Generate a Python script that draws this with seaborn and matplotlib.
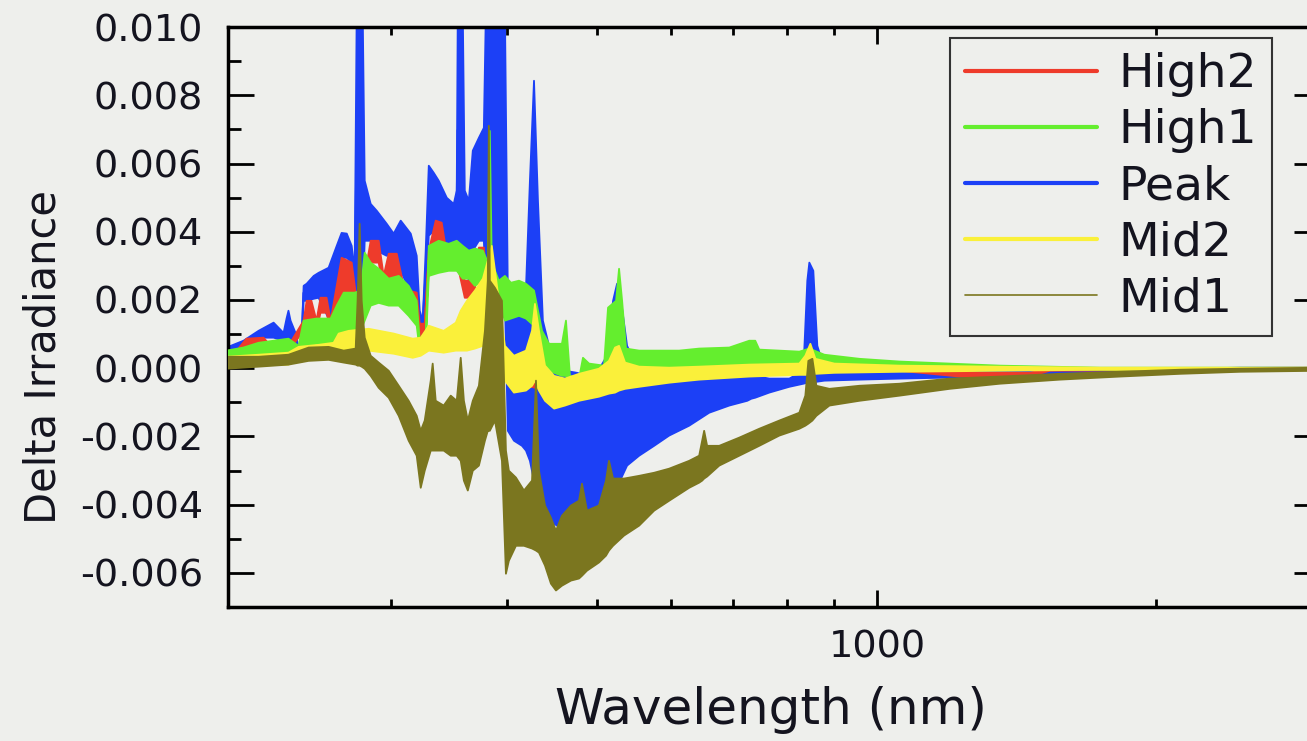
import numpy as np
import pandas as pd
import matplotlib
matplotlib.use("Agg")
import matplotlib.pyplot as plt
from matplotlib.lines import Line2D
from matplotlib import ticker
import seaborn as sns

# Irradiance difference per activity phase. Each spectrum is densely sampled,
# so it is stored as the upper / lower envelope of the signal at each wavelength.

PEAK_NM = [199.0, 207.6, 215.5, 223.7, 229.3, 231.0, 232.1, 233.3, 236.2, 238.0,
           239.8, 241.0, 242.8, 247.1, 250.1, 256.4, 261.6, 264.8, 268.2, 271.5,
           273.5, 274.9, 279.0, 280.4, 284.6, 288.9, 296.1, 301.3, 306.6, 314.3,
           319.0, 321.4, 323.8, 326.2, 328.7, 332.8, 336.9, 343.7, 349.7, 352.3,
           353.2, 357.6, 359.4, 363.0, 366.6, 372.2, 376.8, 378.7, 397.0, 399.9,
           406.0, 414.2, 418.3, 422.4, 426.7, 430.9, 436.2, 442.9, 451.8, 460.8,
           474.7, 486.6, 498.9, 511.4, 519.1, 524.3, 529.5, 537.5, 553.8, 574.8,
           596.6, 627.0, 658.9, 692.5, 724.2, 731.4, 738.6, 764.7, 803.7, 832.2,
           840.4, 844.6, 853.0, 861.5, 876.7, 956.4, 1056, 1196, 1354, 1572,
           1824, 2117, 2458, 3000]
PEAK_HI = [0.00062, 0.00082, 0.00111, 0.00135, 0.00105, 0.00147, 0.00170, 0.00141, 0.00105, 0.00059,
           0.00082, 0.00243, 0.00249, 0.00272, 0.00281, 0.00296, 0.00360, 0.00398, 0.00396, 0.00360,
           0.00287, 0.0105, 0.0105, 0.00551, 0.00483, 0.00463, 0.00425, 0.00396, 0.00434, 0.00396,
           0.00331, 0.00170, 0.00141, 0.00346, 0.00595, 0.00574, 0.00551, 0.00501, 0.00483, 0.00522,
           0.0105, 0.0105, 0.00522, 0.00492, 0.00639, 0.00677, 0.00706, 0.0105, 0.0105, 0.00220,
           0.00199, 0.00214, 0.00237, 0.00551, 0.00844, 0.00492, 0.00141, 0.00067, 0.00023, -0.00006,
           -0.00012, -0.00021, -0.00012, 0.00038, 0.00199, 0.00249, 0.00199, 0.00067, -0.00006, -0.00012,
           -0.00018, -0.00021, -0.00023, -0.00026, -0.00026, 0.00032, -0.00021, -0.00029, -0.00029, -0.00006,
           0.00258, 0.00311, 0.00287, 0.00067, 0.0, -0.00012, -0.00012, -0.00009, -0.00006, -0.00003,
           0.0, 0.0, 0.00003, 0.00003]
PEAK_LO = [0.00041, 0.00064, 0.00091, 0.00091, 0.00082, 0.00076, 0.00070, 0.00070, 0.00059, 0.00047,
           0.00053, 0.00199, 0.00199, 0.00205, 0.00208, 0.00147, 0.00199, 0.00325, 0.00325, 0.00311,
           0.00199, 0.00199, 0.00199, 0.00375, 0.00375, 0.00346, 0.00331, 0.00337, 0.00287, 0.00223,
           0.00199, 0.00132, 0.00126, 0.00199, 0.00390, 0.00404, 0.00428, 0.00355, 0.00352, 0.00346,
           0.00346, 0.00346, 0.00316, 0.00258, 0.00346, 0.00375, 0.00375, 0.00229, 0.00199, -0.00182,
           -0.00211, -0.00226, -0.00240, -0.00270, -0.00328, -0.00387, -0.00416, -0.00445, -0.00460, -0.00469,
           -0.00489, -0.00460, -0.00401, -0.00363, -0.00343, -0.00334, -0.00322, -0.00284, -0.00255, -0.00226,
           -0.00196, -0.00167, -0.00129, -0.00108, -0.00094, -0.00088, -0.00085, -0.00070, -0.00053, -0.00044,
           -0.00041, -0.00041, -0.00041, -0.00038, -0.00035, -0.00032, -0.00029, -0.00026, -0.00023, -0.00018,
           -0.00015, -0.00009, -0.00006, -0.00003]

HIGH2_NM = [199.0, 205.0, 209.1, 218.2, 222.0, 232.1, 241.0, 242.8, 245.7, 248.8,
            251.3, 255.1, 257.7, 264.8, 271.5, 274.9, 280.4, 284.6, 290.3, 293.9,
            297.6, 303.6, 308.9, 312.7, 319.0, 321.4, 325.4, 328.7, 334.4, 339.4,
            342.8, 349.7, 354.1, 359.4, 367.5, 372.2, 376.8, 381.5, 400.9, 460.8,
            553.8, 727.7, 1056, 1226, 1459, 1533, 3000]
HIGH2_HI = [0.00047, 0.00059, 0.00088, 0.00091, 0.00067, 0.00067, 0.00141, 0.00199, 0.00199, 0.00141,
            0.00208, 0.00208, 0.00141, 0.00325, 0.00311, 0.00199, 0.00272, 0.00375, 0.00375, 0.00272,
            0.00337, 0.00337, 0.00243, 0.00229, 0.00223, 0.00132, 0.00132, 0.00346, 0.00434, 0.00428,
            0.00355, 0.00355, 0.00316, 0.00258, 0.00258, 0.00355, 0.00355, 0.00199, 0.00023, -0.00050,
            -0.00010, 0.0, 0.0, -0.00012, -0.00012, 0.0, 0.00003]
HIGH2_LO = [0.00035, 0.00041, 0.00067, 0.00064, 0.00053, 0.00053, 0.00111, 0.00147, 0.00147, 0.00111,
            0.00164, 0.00164, 0.00111, 0.00220, 0.00220, 0.00141, 0.00199, 0.00311, 0.00311, 0.00229,
            0.00267, 0.00267, 0.00199, 0.00179, 0.00179, 0.00091, 0.00091, 0.00287, 0.00375, 0.00369,
            0.00331, 0.00331, 0.00287, 0.00208, 0.00208, 0.00325, 0.00325, 0.00111, -0.00035, -0.00080,
            -0.00030, -0.00012, -0.00006, -0.00023, -0.00023, -0.00006, -0.00003]

HIGH1_NM = [199.0, 207.6, 215.5, 223.7, 232.1, 238.0, 241.0, 248.8, 257.7, 261.6,
            266.2, 273.5, 277.6, 280.4, 284.6, 290.3, 297.6, 305.1, 312.7, 319.0,
            321.4, 326.2, 328.7, 336.9, 345.4, 352.3, 357.6, 363.0, 368.5, 375.9,
            380.5, 382.4, 384.3, 391.1, 397.0, 403.0, 411.1, 418.3, 426.7, 435.3,
            442.9, 457.3, 461.9, 466.5, 477.1, 481.8, 489.1, 507.6, 512.7, 523.0,
            526.9, 530.9, 536.1, 553.8, 611.6, 642.7, 692.5, 727.7, 738.6, 746.0,
            823.9, 844.6, 876.7, 956.4, 1056, 1196, 1354, 1736, 3000]
HIGH1_HI = [0.00053, 0.00062, 0.00076, 0.00082, 0.00088, 0.00067, 0.00141, 0.00147, 0.00147, 0.00185,
            0.00223, 0.00223, 0.00229, 0.00340, 0.00311, 0.00293, 0.00264, 0.00272, 0.00243, 0.00199,
            0.00082, 0.00082, 0.00360, 0.00375, 0.00366, 0.00375, 0.00360, 0.00346, 0.00352, 0.00346,
            0.00311, 0.00697, 0.00311, 0.00258, 0.00272, 0.00252, 0.00258, 0.00249, 0.00229, 0.00111,
            0.00073, 0.00073, 0.00141, -0.00021, -0.00029, 0.00032, 0.00015, 0.00009, 0.00179, 0.00199,
            0.00293, 0.00199, 0.00059, 0.00053, 0.00053, 0.00059, 0.00062, 0.00082, 0.00082, 0.00056,
            0.00050, 0.00059, 0.00041, 0.00029, 0.00021, 0.00015, 0.00009, 0.00003, 0.00003]
HIGH1_LO = [0.00023, 0.00029, 0.00038, 0.00041, 0.00044, 0.00041, 0.00067, 0.00073, 0.00073, 0.00082,
            0.00111, 0.00111, 0.00111, 0.00141, 0.00185, 0.00193, 0.00185, 0.00185, 0.00155, 0.00126,
            0.00053, 0.00053, 0.00272, 0.00281, 0.00287, 0.00287, 0.00264, 0.00264, 0.00243, 0.00258,
            0.00258, 0.00258, 0.00258, 0.00199, 0.00141, 0.00147, 0.00155, 0.00147, 0.00126, 0.00023,
            -0.00006, -0.00021, -0.00021, -0.00050, -0.00050, -0.00035, -0.00035, -0.00029, -0.00006, -0.00006,
            0.00009, 0.00009, 0.0, -0.00006, 0.0, 0.00006, 0.00006, 0.00006, 0.00006, 0.00006,
            0.00006, 0.00006, 0.00003, 0.0, -0.00003, -0.00003, -0.00003, -0.00003, -0.00003]

MID2_NM = [199.0, 215.5, 232.1, 238.0, 250.1, 259.6, 262.9, 269.5, 283.2, 301.3,
           315.9, 322.2, 328.7, 341.1, 351.5, 355.8, 361.3, 368.5, 375.9, 384.3,
           391.1, 397.0, 406.0, 418.3, 424.6, 427.7, 432.0, 438.5, 448.5, 460.8,
           477.1, 501.3, 513.9, 521.7, 526.9, 534.8, 553.8, 596.6, 642.7, 727.7,
           823.9, 836.3, 846.8, 857.4, 898.7, 1056, 1354, 1736, 3000]
MID2_HI = [0.00035, 0.00041, 0.00047, 0.00064, 0.00070, 0.00076, 0.00103, 0.00111, 0.00117, 0.00103,
           0.00088, 0.00091, 0.00126, 0.00111, 0.00135, 0.00170, 0.00199, 0.00229, 0.00264, 0.00360,
           0.00199, 0.00067, 0.00038, 0.00053, 0.00111, 0.00190, 0.00111, 0.00009, -0.00021, -0.00029,
           -0.00015, 0.0, 0.00023, 0.00062, 0.00067, 0.00018, 0.00006, 0.00003, 0.00006, 0.00012,
           0.00015, 0.00038, 0.00073, 0.00029, 0.00015, 0.00009, 0.00006, 0.00003, 0.00003]
MID2_LO = [0.00006, 0.00009, 0.00012, 0.00029, 0.00035, 0.00038, 0.00047, 0.00053, 0.00053, 0.00044,
           0.00032, 0.00038, 0.00053, 0.00047, 0.00053, 0.00053, 0.00053, 0.00059, 0.00067, 0.00082,
           0.00018, -0.00035, -0.00070, -0.00064, -0.00050, -0.00035, -0.00064, -0.00094, -0.00117, -0.00108,
           -0.00094, -0.00082, -0.00073, -0.00070, -0.00064, -0.00059, -0.00053, -0.00041, -0.00032, -0.00023,
           -0.00018, -0.00018, -0.00018, -0.00015, -0.00012, -0.00009, -0.00006, -0.00003, -0.00003]

MID1_NM = [199.0, 215.5, 232.1, 244.0, 256.4, 266.2, 274.2, 275.5, 276.9, 278.3,
           280.4, 284.6, 290.3, 297.6, 305.1, 312.7, 319.0, 322.2, 325.4, 330.3,
           331.9, 334.4, 341.1, 347.1, 352.3, 355.8, 358.6, 362.1, 366.6, 372.2,
           377.8, 380.5, 381.5, 382.4, 387.3, 394.1, 398.0, 400.9, 408.0, 416.2,
           424.6, 428.8, 432.0, 438.5, 445.0, 450.6, 457.3, 467.7, 477.1, 480.6,
           486.6, 501.3, 510.1, 513.9, 519.1, 533.5, 553.8, 574.8, 596.6, 627.0,
           642.7, 647.5, 650.7, 655.5, 675.5, 709.9, 746.0, 784.0, 823.9, 836.3,
           842.6, 851.0, 859.5, 887.7, 956.4, 1056, 1196, 1354, 1572, 1824,
           2117, 2458, 3000]
MID1_HI = [0.00035, 0.00035, 0.00041, 0.00062, 0.00064, 0.00053, 0.00059, 0.00199, 0.00425, 0.00199,
           0.00091, 0.00038, 0.00018, -0.00006, -0.00050, -0.00094, -0.00138, -0.00182, -0.00152, -0.00035,
           0.00015, -0.00094, -0.00108, -0.00079, -0.00094, 0.00032, -0.00094, -0.00152, -0.00094, -0.00050,
           0.00111, 0.00258, 0.00712, 0.00258, 0.00237, 0.00199, -0.00240, -0.00299, -0.00319, -0.00357,
           -0.00328, -0.00035, -0.00299, -0.00401, -0.00437, -0.00475, -0.00431, -0.00401, -0.00387, -0.00337,
           -0.00416, -0.00401, -0.00328, -0.00270, -0.00322, -0.00322, -0.00314, -0.00305, -0.00293, -0.00270,
           -0.00255, -0.00211, -0.00182, -0.00226, -0.00226, -0.00202, -0.00176, -0.00152, -0.00129, -0.00079,
           0.00023, 0.00029, -0.00050, -0.00059, -0.00050, -0.00044, -0.00029, -0.00023, -0.00015, -0.00009,
           -0.00003, 0.0, 0.00003]
MID1_LO = [0.0, 0.00006, 0.00012, 0.00023, 0.00026, 0.00018, 0.00012, 0.00009, 0.00009, 0.00006,
           0.0, -0.00021, -0.00056, -0.00085, -0.00138, -0.00211, -0.00255, -0.00349, -0.00299, -0.00240,
           -0.00240, -0.00240, -0.00240, -0.00255, -0.00255, -0.00270, -0.00328, -0.00357, -0.00299, -0.00284,
           -0.00211, -0.00182, -0.00182, -0.00182, -0.00152, -0.00270, -0.00601, -0.00563, -0.00519, -0.00519,
           -0.00527, -0.00533, -0.00539, -0.00577, -0.00630, -0.00650, -0.00636, -0.00621, -0.00615, -0.00607,
           -0.00592, -0.00568, -0.00548, -0.00533, -0.00519, -0.00489, -0.00460, -0.00416, -0.00387, -0.00349,
           -0.00334, -0.00328, -0.00322, -0.00316, -0.00284, -0.00255, -0.00226, -0.00196, -0.00176, -0.00167,
           -0.00161, -0.00152, -0.00138, -0.00108, -0.00094, -0.00079, -0.00059, -0.00044, -0.00032, -0.00023,
           -0.00015, -0.00009, -0.00006]

LEGEND_ORDER = ["High2", "High1", "Peak", "Mid2", "Mid1"]
DRAW_ORDER = ["Peak", "High2", "High1", "Mid2", "Mid1"]
COLORS = {"High2": "#ee3b2b", "High1": "#64ee2e", "Peak": "#1c40f6",
          "Mid2": "#faf03a", "Mid1": "#7b761f"}
ENVELOPES = {
    "Peak": (PEAK_NM, PEAK_HI, PEAK_LO),
    "High2": (HIGH2_NM, HIGH2_HI, HIGH2_LO),
    "High1": (HIGH1_NM, HIGH1_HI, HIGH1_LO),
    "Mid2": (MID2_NM, MID2_HI, MID2_LO),
    "Mid1": (MID1_NM, MID1_HI, MID1_LO),
}


def envelope_frame(name, nm, hi, lo):
    nm = np.asarray(nm, dtype=float)
    return pd.DataFrame({
        "series": name,
        "wavelength": np.concatenate([nm, nm]),
        "delta": np.concatenate([np.asarray(hi, float), np.asarray(lo, float)]),
    })


frame = pd.concat([envelope_frame(n, *ENVELOPES[n]) for n in DRAW_ORDER], ignore_index=True)

BG = "#eeefec"
INK = "#14141f"
sns.set_style("ticks")
plt.rcParams["font.family"] = ["DejaVu Sans"]

fig = plt.figure(figsize=(13.07, 7.41), dpi=100, facecolor=BG)
ax = fig.add_axes([0.1744, 0.1808, 0.8355, 0.7827], facecolor=BG)
ax.set_xscale("log")

# each phase: min-max band of the two envelopes, stacked in drawing order
for z, name in enumerate(DRAW_ORDER, start=2):
    sub = frame[frame["series"] == name]
    sns.lineplot(data=sub, x="wavelength", y="delta", ax=ax, color=COLORS[name],
                 estimator="mean", errorbar=("pi", 100), linewidth=1.0, legend=False,
                 err_kws={"alpha": 1.0, "linewidth": 1.3, "zorder": z},
                 zorder=z + 0.5)

ax.set_xlim(200, 3000)
ax.set_ylim(-0.007, 0.010)

ax.xaxis.set_major_locator(ticker.LogLocator(base=10, subs=(1.0,)))
ax.xaxis.set_minor_locator(ticker.LogLocator(base=10, subs=np.arange(2, 10)))
ax.xaxis.set_major_formatter(ticker.FuncFormatter(lambda v, p: f"{v:.0f}"))
ax.xaxis.set_minor_formatter(ticker.NullFormatter())
ax.yaxis.set_major_locator(ticker.MultipleLocator(0.002))
ax.yaxis.set_minor_locator(ticker.MultipleLocator(0.001))
ax.yaxis.set_major_formatter(ticker.FuncFormatter(
    lambda v, p: "0.000" if abs(v) < 1e-9 else f"{v:.3f}"))

ax.tick_params(axis="both", which="both", direction="in", top=True, right=True,
               color="black", labelcolor=INK)
ax.tick_params(axis="y", which="major", length=19, width=2.0, pad=18, labelsize=27.5)
ax.tick_params(axis="y", which="minor", length=9.5, width=2.0)
ax.tick_params(axis="x", which="major", length=12, width=2.0, pad=16, labelsize=27.5)
ax.tick_params(axis="x", which="minor", length=6, width=2.0)
for spine in ax.spines.values():
    spine.set_linewidth(2.5)
    spine.set_color("black")

ax.set_xlabel("Wavelength (nm)", fontsize=36, color=INK)
ax.set_ylabel("Delta Irradiance", fontsize=30, color=INK)
ax.xaxis.set_label_coords(0.497, -0.137)
ax.yaxis.set_label_coords(-0.150, 0.431)

handles = [Line2D([0], [0], color=COLORS[n], lw=(1.2 if n == "Mid1" else 3.0))
           for n in LEGEND_ORDER]
leg = ax.legend(handles, LEGEND_ORDER, loc="upper left", bbox_to_anchor=(0.727, 0.949),
                bbox_transform=fig.transFigure, fontsize=34, frameon=True, fancybox=False,
                edgecolor="#333333", facecolor=BG, framealpha=1.0, borderpad=0.31,
                labelspacing=0.233, handlelength=2.8, handletextpad=0.45, borderaxespad=0)
leg.get_frame().set_linewidth(1.5)
for t in leg.get_texts():
    t.set_color(INK)
leg.set_zorder(10)

fig.savefig("out.png", dpi=100, facecolor=BG)
